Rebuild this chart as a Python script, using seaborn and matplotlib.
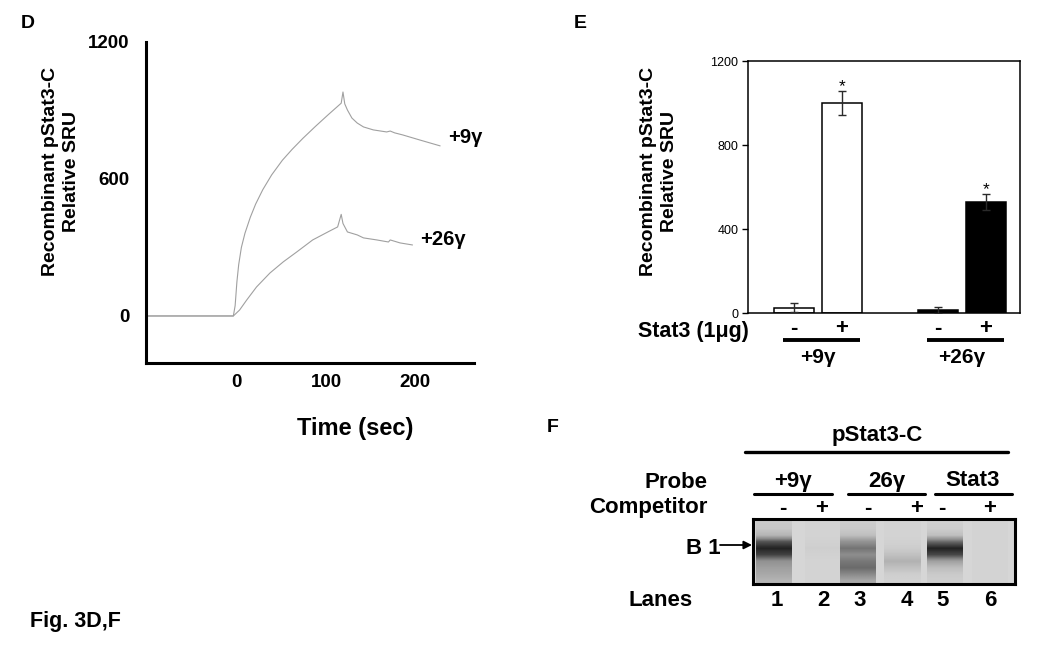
import numpy as np
import pandas as pd
import seaborn as sns
import matplotlib.pyplot as plt
from matplotlib.colors import LinearSegmentedColormap

# ---- panel D: SPR traces (time in sec, relative SRU)
t_9 = [-102, -4, -2, 0, 2, 5, 9, 15, 21, 29, 39, 51, 62, 74, 88, 102, 117, 119,
       121, 124, 129, 135, 142, 153, 168, 172, 177, 186, 205, 228]
sru_9 = [0, 0, 45, 150, 225, 300, 362, 432, 490, 553, 618, 682, 730, 778, 830, 880, 932, 981,
         929, 902, 867, 845, 828, 815, 806, 810, 802, 793, 771, 745]
t_26 = [-102, -4, 3, 11, 22, 37, 52, 67, 85, 104, 113, 117, 119, 124, 135, 142,
        157, 170, 172, 183, 197]
sru_26 = [0, 0, 26, 70, 127, 188, 237, 280, 333, 372, 390, 445, 405, 368, 355, 342,
          333, 324, 333, 320, 311]
trace_labels = ['+9γ', '+26γ']

# ---- panel E: bar heights
bar_group = ['+9γ', '+9γ', '+26γ', '+26γ']
bar_stat3 = ['-', '+', '-', '+']
bar_sru = [25, 1000, 15, 527]
bar_err = [22, 55, 15, 38]
bar_fill = ['white', 'white', 'black', 'black']
bar_star = ['', '*', '', '*']

# ---- panel F: gel, band darkness per lane from top to bottom of the gel
lane_labels = ['1', '2', '3', '4', '5', '6']
lane_competitor = ['-', '+', '-', '+', '-', '+']
probe_labels = ['+9γ', '26γ', 'Stat3']
lane_profiles = [
    [0.08, 0.10, 0.22, 0.75, 0.97, 0.82, 0.45, 0.36, 0.30, 0.22],
    [0.02, 0.02, 0.02, 0.03, 0.05, 0.03, 0.02, 0.02, 0.02, 0.02],
    [0.06, 0.08, 0.15, 0.45, 0.60, 0.48, 0.58, 0.64, 0.50, 0.30],
    [0.02, 0.02, 0.02, 0.03, 0.06, 0.14, 0.24, 0.14, 0.05, 0.03],
    [0.04, 0.06, 0.15, 0.65, 0.97, 0.80, 0.35, 0.16, 0.08, 0.05],
    [0.02, 0.02, 0.02, 0.02, 0.02, 0.02, 0.02, 0.02, 0.02, 0.02],
]

sns.set_theme(style='white')
plt.rcParams['font.family'] = ['Liberation Sans', 'DejaVu Sans']
plt.rcParams['text.color'] = 'black'
plt.rcParams['axes.labelcolor'] = 'black'
plt.rcParams['xtick.color'] = 'black'
plt.rcParams['ytick.color'] = 'black'

W, H = 1050, 645
fig = plt.figure(figsize=(10.5, 6.45), dpi=100)


def box(l, t, r, b):
    return [l / W, 1 - b / H, (r - l) / W, (b - t) / H]


# overlay axes in pixel units for free text
ov = fig.add_axes([0, 0, 1, 1], zorder=5)
ov.set_xlim(0, W)
ov.set_ylim(H, 0)
ov.axis('off')
ov.patch.set_alpha(0)

# ================= D =================
axD = fig.add_axes(box(146, 42, 474, 363))
sns.lineplot(x=t_9, y=sru_9, ax=axD, color='#a0a0a0', lw=0.8, sort=False, estimator=None)
sns.lineplot(x=t_26, y=sru_26, ax=axD, color='#a0a0a0', lw=0.8, sort=False, estimator=None)
axD.set_xlim(-102, 266)
axD.set_ylim(-206, 1200)
axD.set_xticks([0, 100, 200])
axD.set_yticks([0, 600, 1200])
sns.despine(ax=axD)
for s in ['left', 'bottom']:
    axD.spines[s].set_linewidth(2.2)
    axD.spines[s].set_color('black')
axD.tick_params(axis='both', direction='inout', length=11.5, width=2.2, colors='black',
                labelsize=13.5, pad=2)
axD.tick_params(axis='y', pad=6)
for lab in axD.get_xticklabels() + axD.get_yticklabels():
    lab.set_fontweight('bold')
axD.text(237, 780, trace_labels[0], fontsize=14.5, fontweight='bold', va='center', clip_on=False)
axD.text(206, 333, trace_labels[1], fontsize=14.5, fontweight='bold', va='center', clip_on=False)
ov.text(355, 428, 'Time (sec)', fontsize=17, fontweight='bold', ha='center', va='center')
ov.text(61, 171, 'Recombinant pStat3-C\nRelative SRU', fontsize=14, fontweight='bold',
        rotation=90, ha='center', va='center', linespacing=1.35)
ov.text(28, 23, 'D', fontsize=14, fontweight='bold', ha='center', va='center')

# ================= E =================
axE = fig.add_axes(box(748, 61, 1020, 313))
pos = [0, 1, 3, 4]
dfE = pd.DataFrame({'pos': pos, 'sru': bar_sru, 'fill': bar_fill})
sns.barplot(data=dfE, x='pos', y='sru', hue='fill', palette={'white': 'white', 'black': 'black'},
            native_scale=True, width=0.83, edgecolor='black', linewidth=1.1,
            errorbar=None, legend=False, ax=axE)
axE.errorbar(pos, bar_sru, yerr=bar_err, fmt='none', ecolor='#2a2a2a', elinewidth=1,
             capsize=3, capthick=1, zorder=5)
for p, v, e, s in zip(pos, bar_sru, bar_err, bar_star):
    if s:
        axE.annotate(s, (p, v + e), xytext=(0, 5), textcoords='offset pixels',
                     ha='center', va='center', fontsize=12.5)
axE.set_xlim(-0.96, 4.71)
axE.set_ylim(0, 1200)
axE.set_yticks([0, 400, 800, 1200])
axE.set_xticks([])
axE.set_xlabel('')
axE.set_ylabel('')
for s in axE.spines.values():
    s.set_linewidth(1.1)
    s.set_color('black')
axE.tick_params(axis='y', direction='out', length=4, width=1, colors='black', labelsize=9,
                left=True, pad=3)
trans = axE.get_xaxis_transform()
for p, sign in zip(pos, bar_stat3):
    axE.text(p, -0.06, sign, transform=trans, ha='center', va='center', fontsize=16,
             fontweight='bold', clip_on=False)
for g, (a, b) in zip([bar_group[0], bar_group[2]], [(0, 1), (3, 4)]):
    axE.plot([a - 0.23, b + 0.38], [-0.108, -0.108], transform=trans, color='black', lw=2.8,
             clip_on=False, solid_capstyle='butt')
    axE.text((a + b) / 2, -0.175, g, transform=trans, ha='center',
             va='center', fontsize=15, fontweight='bold', clip_on=False)
ov.text(749, 331, 'Stat3 (1μg)', fontsize=15.5, fontweight='bold', ha='right', va='center')
ov.text(659, 171, 'Recombinant pStat3-C\nRelative SRU', fontsize=14, fontweight='bold',
        rotation=90, ha='center', va='center', linespacing=1.35)
ov.text(580, 23, 'E', fontsize=14, fontweight='bold', ha='center', va='center')

# ================= F =================
axF = fig.add_axes(box(753, 519, 1015, 584))
gel_cmap = LinearSegmentedColormap.from_list('gel', ['#d6d6d6', '#8a8a8a', '#1c1c1c'])
axF.set_facecolor('#d6d6d6')
lane_cx = [21, 70, 105, 149, 192, 237]
for cx, prof in zip(lane_cx, lane_profiles):
    axF.imshow(np.array(prof)[:, None], extent=[cx - 18, cx + 18, 65, 0], cmap=gel_cmap,
               vmin=0, vmax=1, interpolation='bilinear', aspect='auto')
axF.set_xlim(0, 262)
axF.set_ylim(65, 0)
axF.set_xticks([])
axF.set_yticks([])
for s in axF.spines.values():
    s.set_linewidth(2.2)
    s.set_color('black')
    s.set_visible(True)

ov.text(553, 428, 'F', fontsize=14, fontweight='bold', ha='center', va='center')
ov.text(877, 435, 'pStat3-C', fontsize=16, fontweight='bold', ha='center', va='center')
ov.plot([745, 1008], [452, 452], color='black', lw=2.4)
ov.text(708, 482, 'Probe', fontsize=16, fontweight='bold', ha='right', va='center')
ov.text(708, 508, 'Competitor', fontsize=16, fontweight='bold', ha='right', va='center')
for lab, cx, (a, b) in zip(probe_labels, [793, 887, 973], [(754, 832), (848, 925), (935, 1012)]):
    ov.text(cx, 481, lab, fontsize=16, fontweight='bold', ha='center', va='center')
    ov.plot([a, b], [494, 494], color='black', lw=2.2)
for sign, x in zip(lane_competitor, [783, 822, 868, 917, 942, 990]):
    ov.text(x, 509, sign, fontsize=16, fontweight='bold', ha='center', va='center')
ov.text(693, 601, 'Lanes', fontsize=16, fontweight='bold', ha='right', va='center')
for lab, x in zip(lane_labels, [777, 823, 860, 907, 943, 990]):
    ov.text(x, 601, lab, fontsize=16, fontweight='bold', ha='center', va='center')
ov.text(703, 548, 'B 1', fontsize=16, fontweight='bold', ha='center', va='center')
ov.annotate('', xy=(752, 545), xytext=(720, 545),
            arrowprops=dict(arrowstyle='-|>', lw=1.3, color='black', mutation_scale=12,
                            shrinkA=0, shrinkB=0))

ov.text(30, 622, 'Fig. 3D,F', fontsize=15.5, fontweight='bold', ha='left', va='center')

fig.savefig('out.png', dpi=100)
